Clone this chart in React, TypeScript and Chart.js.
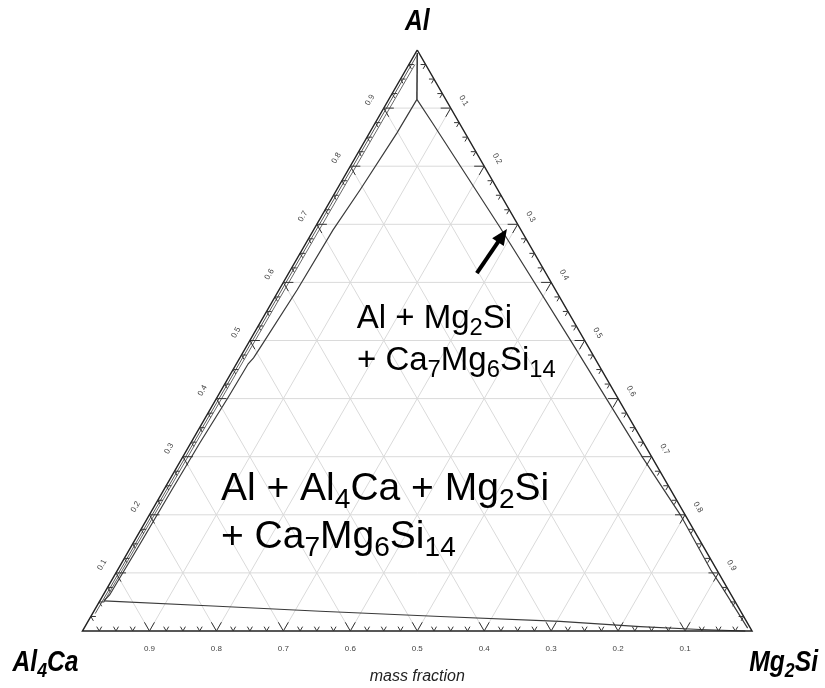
import React, { useEffect, useRef } from 'react';
import { Chart, registerables } from 'chart.js';

Chart.register(...registerables);

// ---- axis data (mass fractions) ----
const gridFractions = [0.1, 0.2, 0.3, 0.4, 0.5, 0.6, 0.7, 0.8, 0.9];
const tickLabels = ['0.1', '0.2', '0.3', '0.4', '0.5', '0.6', '0.7', '0.8', '0.9'];
const minorTickFractions = [
  0.025, 0.05, 0.075, 0.125, 0.15, 0.175, 0.225, 0.25, 0.275, 0.325, 0.35, 0.375,
  0.425, 0.45, 0.475, 0.525, 0.55, 0.575, 0.625, 0.65, 0.675, 0.725, 0.75, 0.775,
  0.825, 0.85, 0.875, 0.925, 0.95, 0.975,
];

// ---- phase boundaries: [Al mass fraction, Mg2Si mass fraction] ----
const apexStem: [number, number][] = [[0.995, 0.0025], [0.915, 0.042]];
const rightBoundary: [number, number][] = [
  [0.915, 0.042], [0.874, 0.086], [0.695, 0.276], [0.501, 0.478], [0.298, 0.688],
  [0.2, 0.793], [0.105, 0.886], [0.076, 0.917], [0.005, 0.991],
];
const leftBoundary: [number, number][] = [
  [0.915, 0.042], [0.857, 0.041], [0.759, 0.035], [0.69, 0.029], [0.587, 0.027],
  [0.492, 0.0218], [0.47, 0.0205], [0.46, 0.0175], [0.401, 0.0165], [0.324, 0.0134],
  [0.243, 0.012], [0.148, 0.011], [0.062, 0.0095], [0.052, 0.006],
];
const bottomBoundary: [number, number][] = [
  [0.052, 0.006], [0.043, 0.173], [0.034, 0.338], [0.025, 0.522], [0.0164, 0.705],
  [0.0077, 0.829], [0.0026, 0.921], [0.0, 0.99],
];
const leftEdgeLineA: [number, number][] = [[0.992, 0.004], [0.03, 0.004]];
const leftEdgeLineB: [number, number][] = [[0.975, 0.009], [0.05, 0.007]];

// ---- annotations ----
const phaseLabelTexts = ['Al + Mg_2Si', '+ Ca_7Mg_6Si_14', 'Al + Al_4Ca + Mg_2Si', '+ Ca_7Mg_6Si_14'];
const phaseLabelAnchors: [number, number][] = [[0.5215, 0.149], [0.4492, 0.1854], [0.2255, 0.0941], [0.1429, 0.1354]];
const phaseLabelSizes = [33, 33, 39, 39];
const cornerLabels = ['Al', 'Al_4Ca', 'Mg_2Si'];
const axisTitle = 'mass fraction';
const arrowTail: [number, number] = [0.616, 0.281];
const arrowTip: [number, number] = [0.692, 0.288];

const FONT = '"Liberation Sans", Arial, Helvetica, sans-serif';

const toPoint = ([a, m]: [number, number]) => ({ x: m + a / 2, y: a });
const GAP = { x: null as any, y: null as any };

function buildGrid() {
  const pts: any[] = [];
  for (const s of gridFractions) {
    pts.push(toPoint([s, 0]), toPoint([s, 1 - s]), GAP);
    pts.push(toPoint([0, s]), toPoint([1 - s, s]), GAP);
    pts.push(toPoint([0, 1 - s]), toPoint([1 - s, 0]), GAP);
  }
  return pts;
}

function buildTicks() {
  const pts: any[] = [];
  const add = (t: number, L: number) => {
    pts.push(toPoint([L, t - L]), toPoint([0, t]), toPoint([L, t]), GAP);
    pts.push(toPoint([t, L]), toPoint([t, 0]), toPoint([t - L, L]), GAP);
    pts.push(toPoint([t, 1 - t - L]), toPoint([t, 1 - t]), toPoint([t - L, 1 - t]), GAP);
  };
  gridFractions.forEach((t) => add(t, 0.015));
  minorTickFractions.forEach((t) => add(t, 0.0075));
  return pts;
}

function richWidth(ctx: CanvasRenderingContext2D, text: string, size: number, style: string) {
  const parts = text.split(/(_\d+)/).filter(Boolean);
  let w = 0;
  for (const p of parts) {
    const sub = p.startsWith('_');
    const s = sub ? p.slice(1) : p;
    ctx.font = `${style} ${sub ? size * 0.72 : size}px ${FONT}`;
    w += ctx.measureText(s).width;
  }
  return w;
}

function drawRich(ctx: CanvasRenderingContext2D, text: string, x: number, y: number, size: number, style: string) {
  const parts = text.split(/(_\d+)/).filter(Boolean);
  let cx = x;
  ctx.textAlign = 'left';
  ctx.textBaseline = 'alphabetic';
  for (const p of parts) {
    const sub = p.startsWith('_');
    const s = sub ? p.slice(1) : p;
    ctx.font = `${style} ${sub ? size * 0.72 : size}px ${FONT}`;
    ctx.fillText(s, cx, sub ? y + size * 0.2 : y);
    cx += ctx.measureText(s).width;
  }
}

const textPlugin = {
  id: 'ternaryText',
  afterDatasetsDraw(chart: any) {
    const ctx: CanvasRenderingContext2D = chart.ctx;
    const xs = chart.scales.x;
    const ys = chart.scales.y;
    const px = (a: number, m: number) => [xs.getPixelForValue(m + a / 2), ys.getPixelForValue(a)];
    ctx.save();

    // tick labels
    ctx.fillStyle = '#444';
    ctx.font = `8px ${FONT}`;
    ctx.textAlign = 'center';
    ctx.textBaseline = 'middle';
    gridFractions.forEach((t, i) => {
      const [bx, by] = px(0, t);
      ctx.fillText(tickLabels[8 - i], bx, by + 18);

      const [lx, ly] = px(t, 0);
      ctx.save();
      ctx.translate(lx - 0.866 * 16, ly - 0.5 * 16);
      ctx.rotate(-Math.PI / 3);
      ctx.fillText(tickLabels[i], 0, 0);
      ctx.restore();

      const [rx, ry] = px(t, 1 - t);
      ctx.save();
      ctx.translate(rx + 0.866 * 15, ry - 0.5 * 15);
      ctx.rotate(Math.PI / 3);
      ctx.fillText(tickLabels[8 - i], 0, 0);
      ctx.restore();
    });

    // axis title
    const [leftX, baseY] = px(0, 0);
    const [rightX] = px(0, 1);
    const [apexX, apexY] = px(1, 0);
    ctx.fillStyle = '#222';
    ctx.font = `italic 16px ${FONT}`;
    ctx.textAlign = 'center';
    ctx.textBaseline = 'alphabetic';
    ctx.fillText(axisTitle, (leftX + rightX) / 2, baseY + 50);

    // corner labels (bold italic, condensed)
    ctx.fillStyle = '#000';
    const cs = 29;
    const sx = 0.85;
    const corner = (text: string, x: number, y: number, align: 'left' | 'center' | 'right') => {
      const w = richWidth(ctx, text, cs, 'italic bold');
      ctx.save();
      ctx.translate(x, y);
      ctx.scale(sx, 1);
      const start = align === 'left' ? 0 : align === 'center' ? -w / 2 : -w;
      drawRich(ctx, text, start, 0, cs, 'italic bold');
      ctx.restore();
    };
    corner(cornerLabels[0], apexX, apexY - 20, 'center');
    corner(cornerLabels[1], leftX - 70, baseY + 40, 'left');
    corner(cornerLabels[2], rightX + 66, baseY + 40, 'right');

    // phase region labels
    phaseLabelTexts.forEach((t, i) => {
      const [x, y] = px(phaseLabelAnchors[i][0], phaseLabelAnchors[i][1]);
      drawRich(ctx, t, x, y, phaseLabelSizes[i], 'normal');
    });

    // arrow
    const [tx, ty] = px(arrowTail[0], arrowTail[1]);
    const [hx, hy] = px(arrowTip[0], arrowTip[1]);
    const len = Math.hypot(hx - tx, hy - ty);
    const dx = (hx - tx) / len;
    const dy = (hy - ty) / len;
    ctx.strokeStyle = '#000';
    ctx.lineWidth = 4;
    ctx.beginPath();
    ctx.moveTo(tx, ty);
    ctx.lineTo(hx - dx * 12, hy - dy * 12);
    ctx.stroke();
    ctx.beginPath();
    ctx.moveTo(hx, hy);
    ctx.lineTo(hx - dx * 16 - dy * 7, hy - dy * 16 + dx * 7);
    ctx.lineTo(hx - dx * 16 + dy * 7, hy - dy * 16 - dx * 7);
    ctx.closePath();
    ctx.fillStyle = '#000';
    ctx.fill();

    ctx.restore();
  },
};

function lineSet(data: any[], color: string, width: number) {
  return {
    data,
    showLine: true,
    borderColor: color,
    backgroundColor: color,
    borderWidth: width,
    pointRadius: 0,
    pointHoverRadius: 0,
    fill: false,
    spanGaps: false,
    tension: 0,
    clip: false as any,
  };
}

export default function App() {
  const ref = useRef<HTMLCanvasElement>(null);
  useEffect(() => {
    const canvas = ref.current;
    if (!canvas) return;
    const outline: [number, number][] = [[1, 0], [0, 0], [0, 1], [1, 0]];
    const datasets = [
      lineSet(buildTicks(), '#333', 1),
      lineSet(outline.map(toPoint), '#222', 1.5),
      lineSet(apexStem.map(toPoint), '#333', 1.5),
      lineSet(rightBoundary.map(toPoint), '#3a3a3a', 1.2),
      lineSet(leftBoundary.map(toPoint), '#3a3a3a', 1.2),
      lineSet(bottomBoundary.map(toPoint), '#3a3a3a', 1.2),
      lineSet(leftEdgeLineA.map(toPoint), '#555', 1),
      lineSet(leftEdgeLineB.map(toPoint), '#666', 1),
      lineSet(buildGrid(), '#dadada', 1),
    ];
    const chart = new Chart(canvas, {
      type: 'scatter',
      data: { datasets } as any,
      options: {
        animation: false,
        responsive: false,
        devicePixelRatio: 1,
        events: [],
        layout: { padding: { left: 82.5, right: 73, top: 50, bottom: 57 } },
        scales: {
          x: { type: 'linear', min: 0, max: 1, display: false },
          y: { type: 'linear', min: 0, max: 1, display: false },
        },
        plugins: { legend: { display: false }, tooltip: { enabled: false } },
      } as any,
      plugins: [textPlugin as any],
    });
    return () => chart.destroy();
  }, []);
  return (
    <div style={{ position: 'absolute', left: 0, top: 0, width: 825, height: 688, background: '#fff' }}>
      <canvas ref={ref} width={825} height={688} style={{ display: 'block' }} />
    </div>
  );
}
